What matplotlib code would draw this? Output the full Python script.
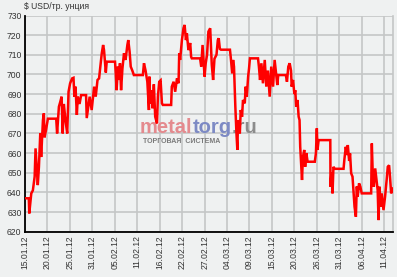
import matplotlib
matplotlib.use("Agg")
from matplotlib import pyplot as plt

# position along the trading axis (in tick intervals) and price, USD/troy oz
t = [0.03, 0.17, 0.19, 0.28, 0.35, 0.43, 0.47, 0.57, 0.62, 0.68, 0.72, 0.80, 0.84, 0.87, 0.94,
     1.02, 1.39, 1.43, 1.51, 1.57, 1.63, 1.68, 1.73, 1.80, 1.88, 1.94, 2.01, 2.10, 2.16, 2.20,
     2.25, 2.31, 2.35, 2.43, 2.50, 2.72, 2.75, 2.88, 2.97, 3.08, 3.15, 3.23, 3.30, 3.37, 3.42,
     3.48, 3.52, 3.57, 3.60, 3.64, 4.01, 4.04, 4.08, 4.14, 4.19, 4.23, 4.28, 4.34, 4.41, 4.48,
     4.56, 4.60, 4.66, 4.71, 4.78, 4.85, 5.25, 5.30, 5.37, 5.45, 5.52, 5.54, 5.58, 5.63, 5.68,
     5.74, 5.80, 5.88, 5.92, 5.98, 6.04, 6.10, 6.14, 6.51, 6.54, 6.62, 6.69, 6.77, 6.84, 6.87,
     6.91, 6.99, 7.06, 7.11, 7.17, 7.21, 7.28, 7.36, 7.40, 7.43, 7.80, 7.85, 7.91, 8.00, 8.05,
     8.11, 8.17, 8.25, 8.32, 8.38, 8.44, 8.53, 8.59, 8.63, 8.68, 8.73, 9.13, 9.17, 9.23, 9.27,
     9.31, 9.37, 9.42, 9.46, 9.49, 9.57, 9.61, 9.67, 9.71, 9.79, 9.83, 9.88, 9.94, 9.98, 10.02,
     10.38, 10.42, 10.47, 10.53, 10.60, 10.68, 10.75, 10.82, 10.90, 10.97, 11.05, 11.12, 11.20,
     11.24, 11.28, 11.62, 11.67, 11.73, 11.79, 11.85, 11.88, 11.94, 12.00, 12.04, 12.08, 12.14,
     12.19, 12.23, 12.26, 12.29, 12.34, 12.38, 12.44, 12.48, 12.53, 12.59, 12.91, 12.96, 13.00,
     13.03, 13.08, 13.60, 13.61, 13.65, 13.70, 13.74, 13.80, 13.85, 14.19, 14.23, 14.29, 14.34,
     14.38, 14.44, 14.48, 14.53, 14.59, 14.63, 14.68, 14.74, 14.78, 14.82, 14.88, 14.94, 15.00,
     15.42, 15.45, 15.49, 15.54, 15.60, 15.66, 15.71, 15.75, 15.79, 15.84, 15.89, 15.97, 16.04,
     16.11, 16.16, 16.22, 16.26, 16.31, 16.37]
price = [637, 637, 629.3, 639.5, 641, 648, 662.4, 643.7, 653, 670, 658, 676.8, 680.2, 668, 672,
         677.5, 677.5, 670, 683.6, 686, 688.7, 670, 685, 677, 670, 691.2, 695.5, 698, 698.3, 688.7,
         693.8, 679.4, 688.7, 685, 689.5, 689.5, 677.8, 688.7, 681.9, 693.8, 688.7, 697.2, 698, 705.7, 710.8,
         715, 712.4, 705, 701, 706.5, 706.5, 701.4, 692, 704, 697.2, 705.7, 692, 703, 710.8, 707.4,
         715, 717.5, 711.6, 704, 702, 699.7, 699.7, 705.7, 702, 696.3, 681.9, 698.9, 685.3, 692, 682.8,
         695, 678.5, 675.1, 688.7, 696.3, 697, 685.3, 684.5, 684.5, 693.8, 696.3, 691.2, 698, 695.5, 710.8,
         707.4, 717.5, 723.5, 725.2, 717.5, 721, 712.4, 716, 709, 708.2, 708.2, 704, 715, 698.9, 705.7,
         710, 721.8, 723.5, 705, 697.2, 708, 710, 717.5, 718.4, 713, 712.6, 712.6, 708.2, 700.6, 707.4,
         704, 683.6, 670, 661.6, 676.8, 670, 681.9, 678.5, 687, 685.3, 693.8, 688.7, 698.9, 703, 708.2,
         708.2, 704, 697.2, 705.7, 695.5, 707.4, 693.8, 702, 688.7, 704, 693.8, 707.4, 699,
         694.6, 699.7, 699.7, 696.3, 704, 705.7, 702, 693.8, 697.2, 690, 692, 683.6, 687,
         678.5, 676.8, 663.2, 656.5, 646.3, 658, 661.6, 653, 660, 655.6, 655.6, 660, 672.6,
         661.6, 666.6, 666.6, 642.9, 650, 639.5, 653, 652, 652, 652, 657, 663.2, 659,
         664.1, 656, 659.8, 649.7, 648, 641.2, 632.7, 627.6, 643, 637.8, 644.6, 642.9, 639.5,
         639.5, 664.9, 649.7, 642.9, 652.2, 646.3, 641.2, 625.9, 642.9, 632.7, 639.5, 631, 637.8,
         646.3, 653, 653.8, 648, 639.5, 642]

date_labels = ["15.01.12", "20.01.12", "25.01.12", "31.01.12", "05.02.12", "11.02.12",
               "16.02.12", "22.02.12", "27.02.12", "04.03.12", "09.03.12", "15.03.12",
               "20.03.12", "26.03.12", "31.03.12", "06.04.12", "11.04.12"]
y_ticks = [620, 630, 640, 650, 660, 670, 680, 690, 700, 710, 720, 730]

bg = "#eff1f1"
grid_col = "#c4c6c6"
plt.rcParams["font.family"] = ["Liberation Sans", "DejaVu Sans"]

fig = plt.figure(figsize=(3.97, 2.77), dpi=100, facecolor=bg)
ax = fig.add_axes([25 / 397, 45.3 / 277, 367.7 / 397, 216.2 / 277], facecolor=bg)

# watermark, drawn under the price line; pieces chained so they sit side by side
wm = ax.text(140 / 397, (277 - 133) / 277, "metal", transform=fig.transFigure, color="#e48a8e",
             fontsize=14.5, fontweight="bold", va="baseline", zorder=1)
wm2 = ax.annotate("torg", xy=(1, 0), xycoords=wm, color="#7d8ac4", fontsize=14.5,
                  fontweight="bold", va="bottom", zorder=1)
ax.annotate(".ru", xy=(1, 0), xycoords=wm2, color="#8c8c8c", fontsize=14.5,
            fontweight="bold", va="bottom", zorder=1)
ax.annotate("ТОРГОВАЯ  СИСТЕМА", xy=(0, 0), xycoords=wm, xytext=(2, -0.5),
            textcoords="offset points", color="#7a7a7a", fontsize=5, fontweight="bold",
            va="top", zorder=1)

ax.plot(t, price, color="#ff0000", lw=1.8, solid_joinstyle="miter", zorder=3)

ax.set_xlim(0, 16.38)
ax.set_ylim(620, 730)
ax.set_xticks(range(len(date_labels)))
ax.set_xticklabels(date_labels, rotation=90, fontsize=6.2, color="#333333")
ax.set_yticks(y_ticks)
ax.set_yticklabels([str(v) for v in y_ticks], fontsize=6.2, color="#333333")
ax.tick_params(length=0, pad=2.5)
ax.grid(True, color=grid_col, lw=1.2)
ax.set_axisbelow(True)

for s in ["left", "bottom"]:
    ax.spines[s].set_color("black")
    ax.spines[s].set_linewidth(1.3)
ax.spines["top"].set_visible(False)
ax.spines["right"].set_color(grid_col)
ax.spines["right"].set_linewidth(1.2)

fig.text(24 / 397, (277 - 9) / 277, "$ USD/тр. унция", fontsize=6.2, color="#333333", va="baseline")

fig.savefig("out.png", dpi=100, facecolor=bg)
